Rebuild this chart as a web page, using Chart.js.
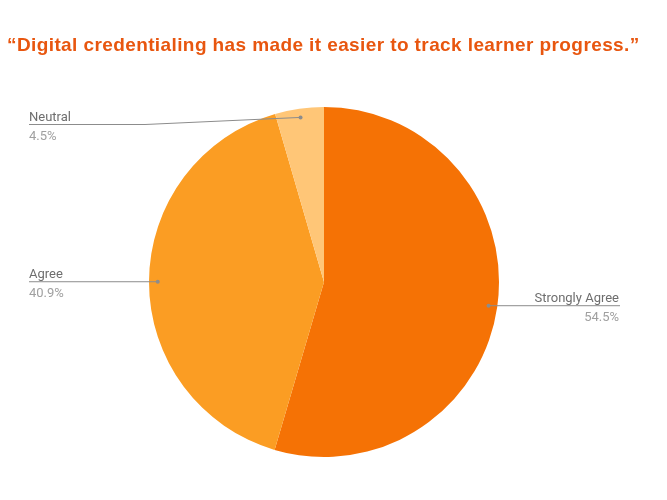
<!DOCTYPE html>
<html>
<head>
<meta charset="utf-8">
<script src="https://cdn.jsdelivr.net/npm/chart.js@4"></script>
<style>
html,body{margin:0;padding:0;background:#fff;}
#wrap{width:667px;height:500px;position:relative;}
</style>
</head>
<body>
<div id="wrap"><canvas id="c" width="667" height="500"></canvas></div>
<script>
const titleText = '\u201CDigital credentialing has made it easier to track learner progress.\u201D';
const categories = ['Strongly Agree', 'Agree', 'Neutral'];
const values = [54.5, 40.9, 4.5];
const valueLabels = ['54.5%', '40.9%', '4.5%'];
const colors = ['#f57205', '#fb9d23', '#ffc677'];

const labelPlugin = {
  id: 'sideLabels',
  afterDraw(chart) {
    const ctx = chart.ctx;
    const meta = chart.getDatasetMeta(0);
    const area = chart.chartArea;
    ctx.save();
    // title
    ctx.font = 'bold 19px "Liberation Sans", Arial, sans-serif';
    ctx.fillStyle = '#e8560f';
    ctx.textAlign = 'left';
    ctx.textBaseline = 'alphabetic';
    try { ctx.letterSpacing = '0.4px'; } catch (e) {}
    ctx.fillText(titleText, 7, 51);
    try { ctx.letterSpacing = '0px'; } catch (e) {}

    meta.data.forEach((arc, i) => {
      const p = arc.getProps(['x','y','startAngle','endAngle','outerRadius'], true);
      const mid = (p.startAngle + p.endAngle) / 2;
      const r = p.outerRadius * 0.95;
      const ax = p.x + Math.cos(mid) * r;
      const ay = p.y + Math.sin(mid) * r;
      const right = Math.cos(mid) > 0;
      const lineY = Math.max(ay, area.top + 17.5);
      const textEdge = right ? 619 : 29;
      const elbowX = right ? textEdge : 145;
      ctx.strokeStyle = '#8c8c8c';
      ctx.lineWidth = 1;
      ctx.beginPath();
      if (right) {
        ctx.moveTo(ax, ay);
        ctx.lineTo(ax, lineY);
        ctx.lineTo(textEdge + 1, lineY);
      } else {
        ctx.moveTo(textEdge, lineY);
        if (Math.abs(lineY - ay) > 1) {
          ctx.lineTo(elbowX, lineY);
        }
        ctx.lineTo(ax, ay);
      }
      ctx.stroke();
      ctx.fillStyle = '#8c8c8c';
      ctx.beginPath();
      ctx.arc(ax, ay, 2, 0, Math.PI * 2);
      ctx.fill();

      ctx.textAlign = right ? 'right' : 'left';
      ctx.font = '13px Roboto, sans-serif';
      ctx.fillStyle = '#6e6e6e';
      ctx.fillText(categories[i], textEdge, lineY - 3.5);
      ctx.fillStyle = '#a0a0a0';
      ctx.fillText(valueLabels[i], textEdge, lineY + 15);
    });
    ctx.restore();
  }
};

new Chart(document.getElementById('c'), {
  type: 'pie',
  data: {
    labels: categories,
    datasets: [{
      data: values,
      backgroundColor: colors,
      borderWidth: 0
    }]
  },
  options: {
    responsive: false,
    animation: false,
    layout: { padding: { top: 107, bottom: 43, left: 149, right: 168 } },
    plugins: {
      legend: { display: false },
      tooltip: { enabled: false },
      title: { display: false }
    }
  },
  plugins: [labelPlugin]
});
</script>
</body>
</html>
